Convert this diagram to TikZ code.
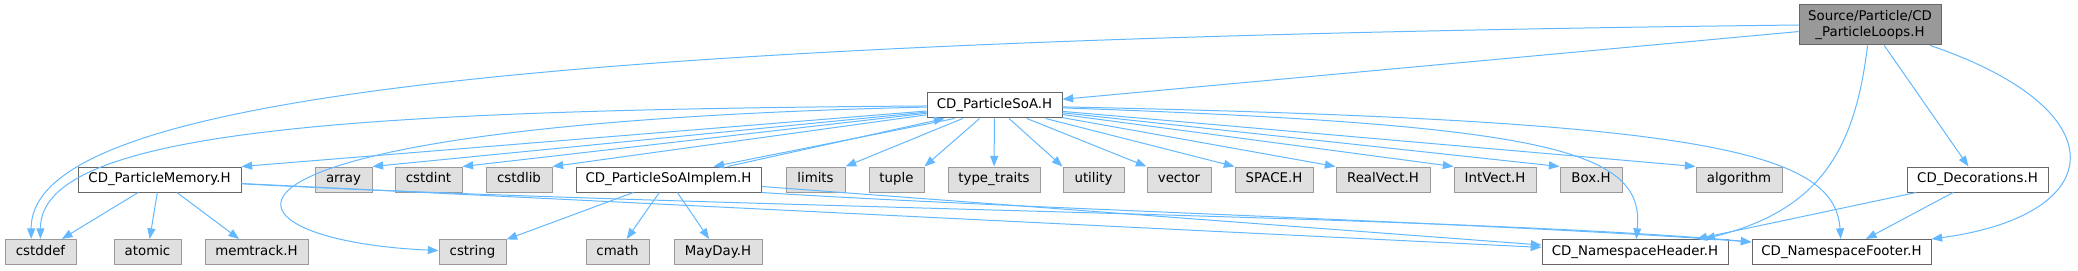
\documentclass[tikz,border=0pt]{standalone}
\usepackage{fontspec}
\setmainfont{DejaVu Sans}
\usetikzlibrary{arrows.meta,calc}
\definecolor{edgeblue}{HTML}{63B8FF}
\definecolor{sysfill}{HTML}{E0E0E0}
\definecolor{sysline}{HTML}{999999}
\definecolor{fileline}{HTML}{666666}
\definecolor{rootfill}{HTML}{999999}
\begin{document}
\begin{tikzpicture}[x=0.75pt,y=-0.75pt,>={Triangle[length=8pt,width=6pt]},
        boxw/.style={minimum width=#1*0.75pt},
        filebox/.style={draw=fileline,fill=white,line width=0.75pt,minimum height=18.75pt,inner xsep=3pt,inner ysep=0pt,text height=7.3pt,text depth=2.3pt,font=\fontsize{10pt}{12pt}\selectfont},
        sysbox/.style={filebox,draw=sysline,fill=sysfill},
        rootbox/.style={draw=fileline,fill=rootfill,line width=0.75pt,minimum height=30pt,inner xsep=3pt,align=center,font=\fontsize{10pt}{11.5pt}\selectfont},
        dep/.style={->,draw=edgeblue,line width=0.75pt}]
    \useasboundingbox (0,0) rectangle (2078,271);
    \node[rootbox,boxw=142] (loops) at (1870,25) {Source/Particle/CD\\\_ParticleLoops.H};
    \node[filebox,boxw=135] (soa) at (994.5,105.5) {CD\_ParticleSoA.H};
    \node[filebox,boxw=163] (mem) at (159.5,179.5) {CD\_ParticleMemory.H};
    \node[filebox,boxw=185] (implem) at (668.5,179.5) {CD\_ParticleSoAImplem.H};
    \node[filebox,boxw=141] (deco) at (1977.5,179.5) {CD\_Decorations.H};
    \node[filebox,boxw=186] (header) at (1635,252) {CD\_NamespaceHeader.H};
    \node[filebox,boxw=179] (footer) at (1841.5,252) {CD\_NamespaceFooter.H};
    \foreach \x/\w/\id/\name in {343.5/57/array/array, 428.5/67/cstdint/cstdint, 519/66/cstdlib/cstdlib, 815.5/59/limits/limits, 896.5/55/tuple/tuple, 994/92/typetraits/type\_traits, 1093.5/61/utility/utility, 1179/64/vector/vector, 1274/78/space/SPACE.H, 1383/94/realvect/RealVect.H, 1495/82/intvect/IntVect.H, 1591/62/box/Box.H, 1739/86/algorithm/algorithm} {
        \node[sysbox,boxw=\w] (\id) at (\x,179.5) {\name};
    }
    \foreach \x/\w/\id/\name in {40.5/71/cstddef/cstddef, 147.5/67/atomic/atomic, 256.5/103/memtrack/memtrack.H, 472.5/67/cstring/cstring, 617.5/63/cmath/cmath, 718/88/mayday/MayDay.H} {
        \node[sysbox,boxw=\w] (\id) at (\x,252) {\name};
    }
    \draw[dep] (loops.west) .. controls (500,40) and (31,100) .. ([xshift=-7pt]cstddef.north);
    \draw[dep] (loops) -- (soa);
    \draw[dep] (loops) .. controls (1855,150) and (1820,210) .. ([xshift=52pt]header.north);
    \draw[dep] (loops) -- (deco);
    \draw[dep] (loops) .. controls (2120,110) and (2110,215) .. (footer.north east);
    \draw[dep] (soa) .. controls (350,110) and (40,130) .. (cstddef);
    \draw[dep] (soa) -- (mem.north east);
    \draw[dep] (soa) .. controls (150,125) and (200,240) .. (cstring);
    \foreach \t in {array,cstdint,cstdlib,limits,tuple} {
        \draw[dep] (soa) -- (\t.north east);
    }
    \draw[dep] (soa) -- (typetraits);
    \foreach \t in {utility,vector,space,realvect,intvect,box,algorithm} {
        \draw[dep] (soa) -- (\t.north west);
    }
    \draw[dep] ($(soa.south west)+(28,0)$) -- ($(implem.north east)+(-48,0)$);
    \draw[dep] ($(implem.north east)+(-34,0)$) -- ($(soa.south west)+(18,0)$);
    \draw[dep] (soa) .. controls (1550,125) and (1645,150) .. (header);
    \draw[dep] (soa) .. controls (1700,120) and (1835,150) .. (footer);
    \foreach \t in {cstddef,atomic,memtrack,header} {
        \draw[dep] (mem) -- (\t);
    }
    \draw[dep] (mem) .. controls (700,208) and (1450,215) .. ($(footer.west)+(0,-10)$);
    \foreach \t in {cstring,cmath,mayday,header} {
        \draw[dep] (implem) -- (\t);
    }
    \draw[dep] (implem.south east) .. controls (1000,208) and (1480,222) .. ($(footer.west)+(0,-10)$);
    \draw[dep] (deco) -- (header);
    \draw[dep] (deco) -- (footer);
\end{tikzpicture}
\end{document}
